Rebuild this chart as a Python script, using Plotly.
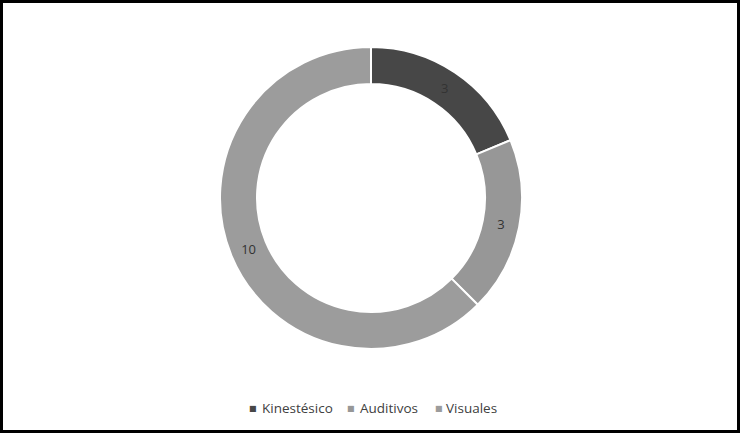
import plotly.graph_objects as go

categories = ["Kinestésico", "Auditivos", "Visuales"]
values = [3, 3, 10]
colors = ["#474747", "#979797", "#9c9c9c"]

W, H = 740, 433
cx, cy, r = 371, 198, 151

# legend layout (pixel positions of swatch centres and text starts)
legend_marker_x = [252.5, 351, 438.5]
legend_text_x = [260, 358, 444]
legend_y = 408

FONT = "Open Sans, Liberation Sans, sans-serif"

fig = go.Figure(go.Pie(
    labels=categories,
    values=values,
    sort=False,
    direction="clockwise",
    rotation=0,
    hole=0.755,
    marker=dict(colors=colors, line=dict(color="white", width=2)),
    textinfo="value",
    textposition="inside",
    insidetextorientation="horizontal",
    textfont=dict(family=FONT, size=13, color="#333333"),
    domain=dict(x=[(cx - r) / W, (cx + r) / W], y=[(H - cy - r) / H, (H - cy + r) / H]),
    showlegend=False,
))

annotations = []
for name, col, mx, tx in zip(categories, colors, legend_marker_x, legend_text_x):
    annotations.append(dict(
        xref="paper", yref="paper", x=mx / W, y=(H - legend_y) / H,
        xanchor="center", yanchor="middle", showarrow=False,
        text="■", font=dict(family="DejaVu Sans", size=8, color=col),
    ))
    annotations.append(dict(
        xref="paper", yref="paper", x=tx / W, y=(H - legend_y) / H,
        xanchor="left", yanchor="middle", showarrow=False,
        text=name, font=dict(family=FONT, size=13.5, color="#404040"),
    ))

fig.update_layout(
    width=W, height=H,
    margin=dict(l=0, r=0, t=0, b=0),
    paper_bgcolor="white",
    plot_bgcolor="white",
    showlegend=False,
    annotations=annotations,
    shapes=[dict(
        type="rect", xref="paper", yref="paper",
        x0=1.5 / W, x1=1 - 1.5 / W, y0=1.5 / H, y1=1 - 1.5 / H,
        line=dict(color="black", width=3), fillcolor="rgba(0,0,0,0)",
    )],
)

fig.write_html(
    "out.html",
    config={"displayModeBar": False},
    post_script="document.body.style.margin='0';document.body.style.overflow='hidden';",
)
